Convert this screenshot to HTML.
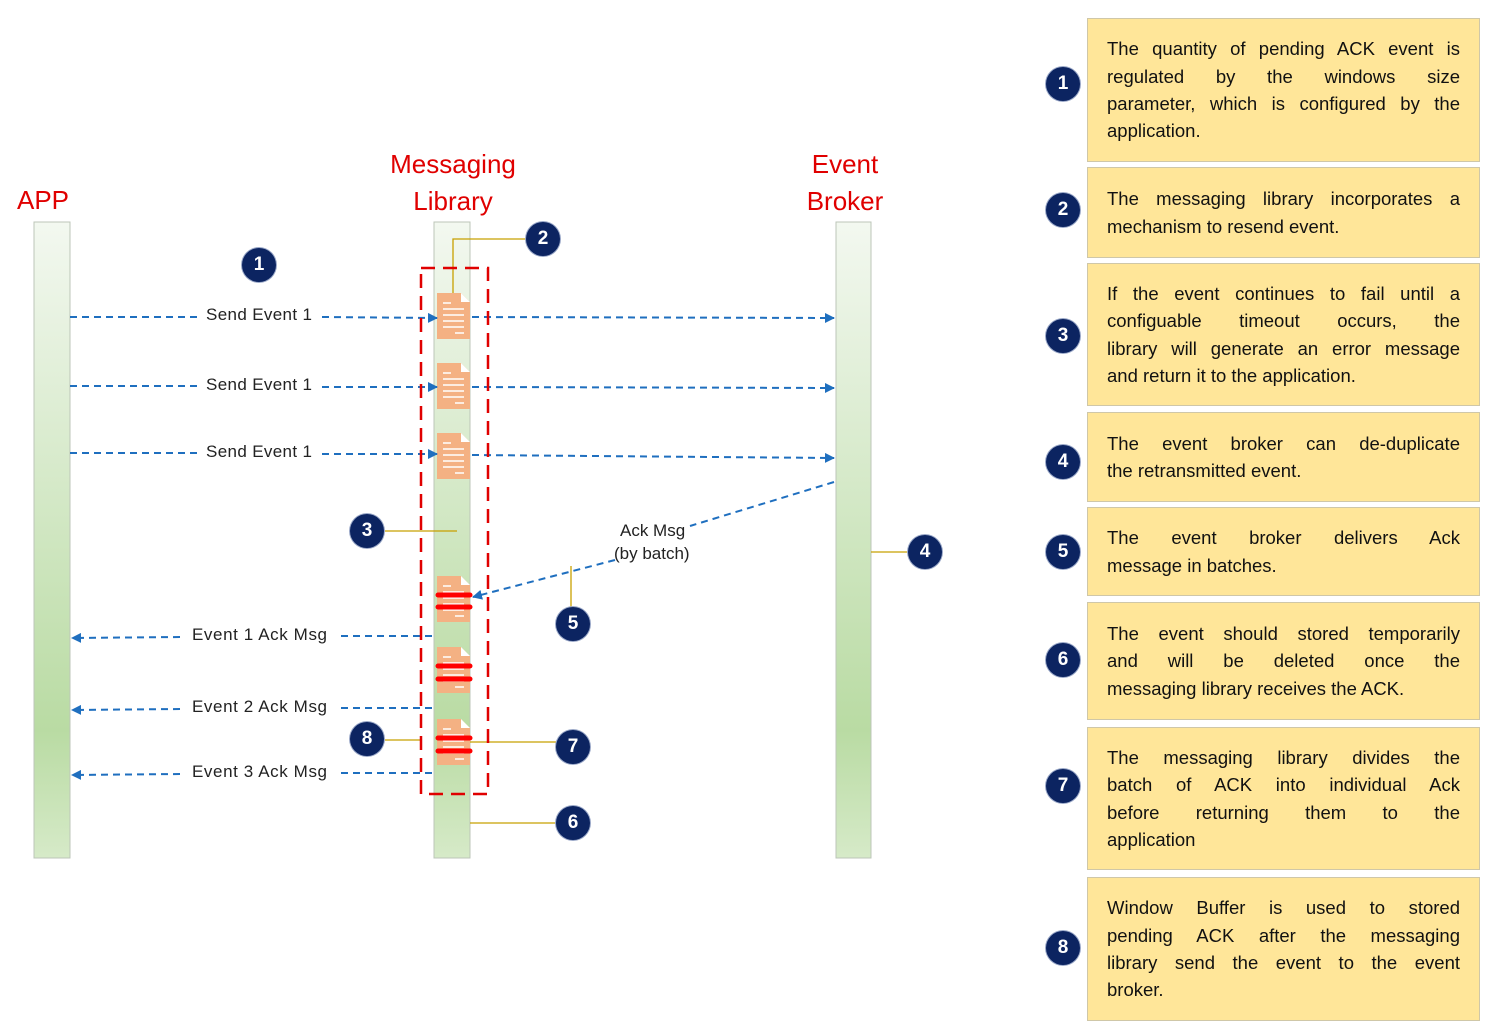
<!DOCTYPE html>
<html><head><meta charset="utf-8"><style>
body{margin:0;width:1488px;height:1032px;background:#fff;position:relative;overflow:hidden;font-family:"Liberation Sans",sans-serif}
.box{position:absolute;left:1087px;width:393px;background:#ffe699;border:1px solid #cfc7a8;box-sizing:border-box;display:flex;flex-direction:column;justify-content:center;padding:0 19px}
.box p{margin:0;font-size:18.5px;line-height:27.3px;text-align:justify;text-align-last:justify;color:#111;white-space:nowrap}
.box p.l{text-align-last:left}
.c{position:absolute;width:34px;height:34px;border-radius:50%;background:#0c2461;color:#fff;font-weight:bold;font-size:19px;text-align:center;line-height:34px;box-shadow:0 0 0 1px #9aa8c8}
</style></head><body>
<svg width="1488" height="1032" style="position:absolute;left:0;top:0">
<defs>
<linearGradient id="g" x1="0" y1="0" x2="0" y2="1">
<stop offset="0" stop-color="#f3f8f0"/><stop offset="0.8" stop-color="#b9dba3"/><stop offset="1" stop-color="#d6eac8"/></linearGradient>
<marker id="a" markerWidth="10" markerHeight="10" refX="9" refY="5" orient="auto" markerUnits="userSpaceOnUse"><path d="M0,0 L10,5 L0,10 z" fill="#1f6fbf"/></marker>
<g id="doc"><path d="M0,0 H24 L33,9 V46 H0 Z" fill="#f4b183"/><path d="M24,0 V9 H33 Z" fill="#fff"/><g stroke="#fff" stroke-width="1.5"><line x1="6" y1="10" x2="14" y2="10"/><line x1="6" y1="16" x2="27" y2="16"/><line x1="6" y1="22" x2="27" y2="22"/><line x1="6" y1="28" x2="27" y2="28"/><line x1="6" y1="34" x2="27" y2="34"/><line x1="18" y1="40" x2="27" y2="40"/></g></g>
</defs>
<rect x="34" y="222" width="36" height="636" fill="url(#g)" stroke="#bcc6b8"/>
<rect x="434" y="222" width="36" height="636" fill="url(#g)" stroke="#bcc6b8"/>
<rect x="836" y="222" width="35" height="636" fill="url(#g)" stroke="#bcc6b8"/>
<g fill="#e00000" font-size="26" text-anchor="middle">
<text x="43" y="209">APP</text><text x="453" y="173">Messaging</text><text x="453" y="210">Library</text>
<text x="845" y="173">Event</text><text x="845" y="210">Broker</text></g>
<g stroke="#c8a000" stroke-width="1.3" fill="none">
<polyline points="526,239 453,239 453,293"/><line x1="385" y1="531" x2="457" y2="531"/>
<line x1="871" y1="552" x2="908" y2="552"/><line x1="571" y1="566" x2="571" y2="607"/>
<line x1="470" y1="823" x2="556" y2="823"/><line x1="470" y1="742" x2="556" y2="742"/>
<line x1="385" y1="740" x2="420" y2="740"/></g>
<use href="#doc" x="437" y="293"/><use href="#doc" x="437" y="363"/><use href="#doc" x="437" y="433"/>
<use href="#doc" x="437" y="576"/><use href="#doc" x="437" y="647"/><use href="#doc" x="437" y="719"/>
<g stroke="#1f6fbf" stroke-width="2" stroke-dasharray="7,5" fill="none">
<line x1="70" y1="317" x2="198" y2="317"/><line x1="322" y1="317" x2="437" y2="318" marker-end="url(#a)"/><line x1="472" y1="317" x2="834" y2="318" marker-end="url(#a)"/>
<line x1="70" y1="386" x2="198" y2="386"/><line x1="322" y1="387" x2="437" y2="387" marker-end="url(#a)"/><line x1="472" y1="387" x2="834" y2="388" marker-end="url(#a)"/>
<line x1="70" y1="453" x2="198" y2="453"/><line x1="322" y1="454" x2="437" y2="454" marker-end="url(#a)"/><line x1="472" y1="455" x2="834" y2="458" marker-end="url(#a)"/>
<line x1="834" y1="482" x2="690" y2="526"/><line x1="615" y1="560" x2="473" y2="597" marker-end="url(#a)"/>
<line x1="432" y1="636" x2="338" y2="636"/><line x1="180" y1="637" x2="72" y2="638" marker-end="url(#a)"/>
<line x1="432" y1="708" x2="338" y2="708"/><line x1="180" y1="709" x2="72" y2="710" marker-end="url(#a)"/>
<line x1="432" y1="773" x2="338" y2="773"/><line x1="180" y1="774" x2="72" y2="775" marker-end="url(#a)"/>
</g>
<rect x="421" y="268" width="67" height="526" fill="none" stroke="#e00000" stroke-width="2.5" stroke-dasharray="14,8"/>
<g stroke="#f00" stroke-width="5" stroke-linecap="round">
<line x1="438" y1="595" x2="470" y2="595"/><line x1="438" y1="607" x2="470" y2="607"/>
<line x1="438" y1="666" x2="470" y2="666"/><line x1="438" y1="679" x2="470" y2="679"/>
<line x1="438" y1="738" x2="470" y2="738"/><line x1="438" y1="751" x2="470" y2="751"/></g>
<g font-size="17" fill="#222">
<text x="206" y="320" textLength="106">Send Event 1</text><text x="206" y="390" textLength="106">Send Event 1</text><text x="206" y="457" textLength="106">Send Event 1</text>
<text x="620" y="536">Ack Msg</text><text x="614" y="559">(by batch)</text>
<text x="192" y="640" textLength="135">Event 1 Ack Msg</text><text x="192" y="712" textLength="135">Event 2 Ack Msg</text><text x="192" y="777" textLength="135">Event 3 Ack Msg</text></g>
</svg>
<div class="c" style="left:242px;top:248px">1</div>
<div class="c" style="left:526px;top:222px">2</div>
<div class="c" style="left:350px;top:514px">3</div>
<div class="c" style="left:908px;top:535px">4</div>
<div class="c" style="left:556px;top:607px">5</div>
<div class="c" style="left:556px;top:806px">6</div>
<div class="c" style="left:556px;top:730px">7</div>
<div class="c" style="left:350px;top:722px">8</div>

<div class="c" style="left:1046px;top:67px">1</div>
<div class="c" style="left:1046px;top:193px">2</div>
<div class="c" style="left:1046px;top:319px">3</div>
<div class="c" style="left:1046px;top:445px">4</div>
<div class="c" style="left:1046px;top:535px">5</div>
<div class="c" style="left:1046px;top:643px">6</div>
<div class="c" style="left:1046px;top:769px">7</div>
<div class="c" style="left:1046px;top:931px">8</div>

<div class="box" style="top:18px;height:144px"><p>The quantity of pending ACK event is</p><p>regulated by the windows size</p><p>parameter, which is configured by the</p><p class="l">application.</p></div>
<div class="box" style="top:167px;height:91px"><p>The messaging library incorporates a</p><p class="l">mechanism to resend event.</p></div>
<div class="box" style="top:263px;height:143px"><p>If the event continues to fail until a</p><p>configuable timeout occurs, the</p><p>library will generate an error message</p><p class="l">and return it to the application.</p></div>
<div class="box" style="top:412px;height:90px"><p>The event broker can de-duplicate</p><p class="l">the retransmitted event.</p></div>
<div class="box" style="top:507px;height:89px"><p>The event broker delivers Ack</p><p class="l">message in batches.</p></div>
<div class="box" style="top:602px;height:118px"><p>The event should stored temporarily</p><p>and will be deleted once the</p><p class="l">messaging library receives the ACK.</p></div>
<div class="box" style="top:727px;height:143px"><p>The messaging library divides the</p><p>batch of ACK into individual Ack</p><p>before returning them to the</p><p class="l">application</p></div>
<div class="box" style="top:877px;height:144px"><p>Window Buffer is used to stored</p><p>pending ACK after the messaging</p><p>library send the event to the event</p><p class="l">broker.</p></div>
</body></html>
